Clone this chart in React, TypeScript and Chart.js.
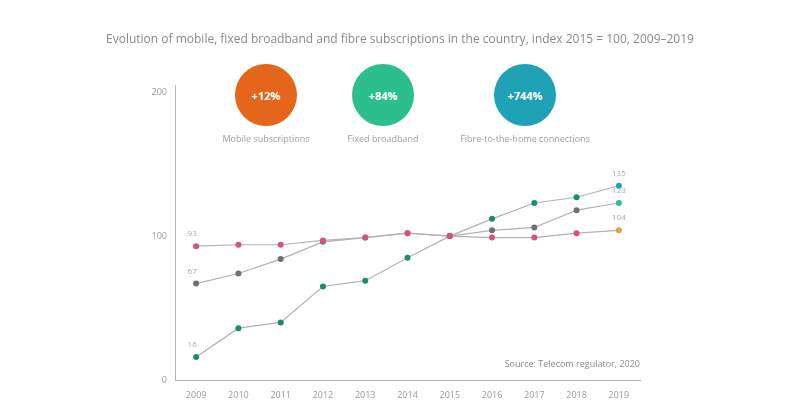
import React, { useEffect, useRef } from 'react';
import Chart from 'chart.js/auto';

// index values, 2015 = 100
const years = ['2009', '2010', '2011', '2012', '2013', '2014', '2015', '2016', '2017', '2018', '2019'];
const mobileIndex = [93, 94, 94, 97, 99, 102, 100, 99, 99, 102, 104];
const broadbandIndex = [67, 74, 84, 96, 99, 102, 100, 104, 106, 118, 123];
const fibreIndex = [16, 36, 40, 65, 69, 85, 100, 112, 123, 127, 135];
const yTicks = [0, 100, 200];

const bubbles = [
  { label: '+12%', caption: 'Mobile subscriptions', color: '#E5661B', left: 235 },
  { label: '+84%', caption: 'Fixed broadband', color: '#2DBE8E', left: 352 },
  { label: '+744%', caption: 'Fibre-to-the-home connections', color: '#1FA1B6', left: 494 },
];

const pointColors = (n: number, base: string, last: string) =>
  Array.from({ length: n }, (_, i) => (i === n - 1 ? last : base));

const endLabels = {
  id: 'endLabels',
  afterDatasetsDraw(chart: Chart) {
    const ctx = chart.ctx;
    ctx.save();
    ctx.font = '8px "Open Sans"';
    ctx.fillStyle = '#aaa';
    ctx.textAlign = 'center';
    chart.data.datasets.forEach((ds, i) => {
      const meta = chart.getDatasetMeta(i);
      const vals = ds.data as number[];
      const first = meta.data[0];
      const last = meta.data[meta.data.length - 1];
      ctx.fillText(String(vals[0]), first.x - 4, first.y - 10);
      ctx.fillText(String(vals[vals.length - 1]), last.x, last.y - 10);
    });
    ctx.restore();
  },
};

const App = () => {
  const chartRef = useRef<HTMLCanvasElement | null>(null);

  useEffect(() => {
    if (!chartRef.current) return;
    const n = years.length;
    const line = { borderColor: '#b2b2b2', borderWidth: 1.2, pointRadius: 3, pointBorderWidth: 0 };
    const chart = new Chart(chartRef.current, {
      type: 'line',
      data: {
        labels: years,
        datasets: [
          { label: 'Mobile', data: mobileIndex, ...line, pointBackgroundColor: pointColors(n, '#D9507A', '#EE9A4E') },
          { label: 'Broadband', data: broadbandIndex, ...line, pointBackgroundColor: pointColors(n, '#707070', '#2DBE8E') },
          { label: 'Fibre', data: fibreIndex, ...line, pointBackgroundColor: pointColors(n, '#178F68', '#1FA1B6') },
        ],
      },
      options: {
        responsive: false,
        animation: false,
        layout: { padding: { left: 135, right: 160, top: 85, bottom: 10 } },
        plugins: {
          legend: { display: false },
          tooltip: { enabled: false },
        },
        scales: {
          x: {
            offset: true,
            grid: { display: false, tickLength: 4 },
            border: { color: '#b5b5b5' },
            ticks: { color: '#9a9a9a', font: { size: 9, family: 'Open Sans' }, padding: 6 },
            afterFit: (s: any) => { s.height = 30; },
          },
          y: {
            min: 0,
            max: 205,
            grid: { display: false, tickLength: 4 },
            border: { color: '#b5b5b5' },
            afterBuildTicks: (s: any) => { s.ticks = yTicks.map(v => ({ value: v })); },
            ticks: { color: '#9a9a9a', font: { size: 9, family: 'Open Sans' }, padding: 4 },
            afterFit: (s: any) => { s.width = 40; },
          },
        },
      },
      plugins: [endLabels],
    });
    return () => chart.destroy();
  }, []);

  return (
    <div style={{ position: 'absolute', left: 0, top: 0, width: 800, height: 420, background: '#fff', fontFamily: '"Open Sans", sans-serif' }}>
      <canvas ref={chartRef} width={800} height={420} style={{ position: 'absolute', left: 0, top: 0 }}></canvas>
      <div style={{ position: 'absolute', left: 0, width: 800, top: 30, textAlign: 'center', fontSize: 12, color: '#8a8a8a' }}>
        Evolution of mobile, fixed broadband and fibre subscriptions in the country, index 2015 = 100, 2009–2019
      </div>
      {bubbles.map(b => (
        <React.Fragment key={b.label}>
          <div style={{ position: 'absolute', left: b.left, top: 64, width: 62, height: 62, borderRadius: '50%', background: b.color, color: '#fff', fontSize: 11, fontWeight: 700, display: 'flex', alignItems: 'center', justifyContent: 'center' }}>
            {b.label}
          </div>
          <div style={{ position: 'absolute', left: b.left + 31 - 100, width: 200, top: 132, textAlign: 'center', fontSize: 9, color: '#a0a0a0' }}>
            {b.caption}
          </div>
        </React.Fragment>
      ))}
      <div style={{ position: 'absolute', right: 160, top: 357, fontSize: 9, color: '#8a8a8a' }}>
        Source: Telecom regulator, 2020
      </div>
    </div>
  );
};

export default App;
